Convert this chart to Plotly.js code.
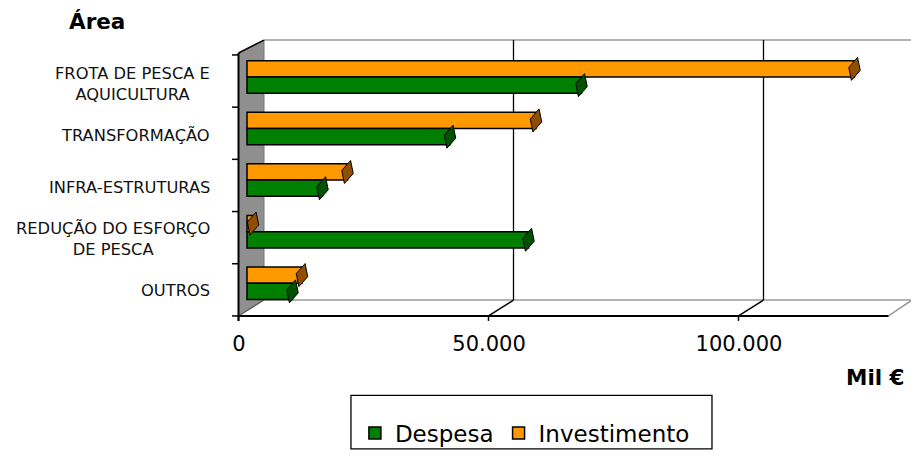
<!DOCTYPE html>
<html>
<head>
<meta charset="utf-8">
<script src="https://cdn.plot.ly/plotly-3.0.1.min.js"></script>
<style>html,body{margin:0;padding:0;background:#fff;}</style>
</head>
<body>
<div id="chart" style="width:911px;height:455px;"></div>
<script>
// ---- data ----
var categories = ['FROTA DE PESCA E<br>AQUICULTURA', 'TRANSFORMAÇÃO', 'INFRA-ESTRUTURAS', 'REDUÇÃO DO ESFORÇO<br>DE PESCA', 'OUTROS'];
var despesa = [66900, 40600, 15100, 56300, 9100];
var investimento = [121500, 57800, 20100, 1200, 11000];
var tickValues = [0, 50000, 100000];
var tickLabels = ['0', '50.000', '100.000'];
var seriesNames = ['Despesa', 'Investimento'];

// ---- style ----
var FONT = 'DejaVu Sans, Verdana, sans-serif';
var GREEN = '#008000', ORANGE = '#FF9900';
var GREEN_CAP = '#005200', ORANGE_CAP = '#8F4E00';
var XMAX = 130000;
var FRONT = -1700, BACK = 3400;               // depth offsets (axis units)
var YTOP = 1.0304, YBACK = 0.0342, YFRONT = -0.0266, YWALLTOP = 0.981, YTICK = -0.0456, YCAT = -0.0266;

var traces = [
  {type:'bar', orientation:'h', name:seriesNames[1], y:categories, x:investimento, offsetgroup:'inv',
   marker:{color:ORANGE, line:{color:'#000', width:1.5}}, legendrank:2, hoverinfo:'x'},
  {type:'bar', orientation:'h', name:seriesNames[0], y:categories, x:despesa, offsetgroup:'des',
   marker:{color:GREEN, line:{color:'#000', width:1.5}}, legendrank:1, hoverinfo:'x'},
  {type:'scatter', mode:'markers', orientation:'h', y:categories, x:investimento, offsetgroup:'inv', showlegend:false,
   marker:{symbol:'diamond-tall', size:17, color:ORANGE_CAP, angle:15, line:{color:'#000', width:1}}, hoverinfo:'skip'},
  {type:'scatter', mode:'markers', orientation:'h', y:categories, x:despesa, offsetgroup:'des', showlegend:false,
   marker:{symbol:'diamond-tall', size:17, color:GREEN_CAP, angle:15, line:{color:'#000', width:1}}, hoverinfo:'skip'}
];

function line(x0, y0, x1, y1, color, width, layer) {
  return {type:'line', xref:'x', yref:'paper', x0:x0, y0:y0, x1:x1, y1:y1,
          line:{color:color, width:width}, layer:layer || 'below'};
}
var shapes = [];
// left wall
shapes.push({type:'path', xref:'x', yref:'paper', layer:'below',
  path:'M '+FRONT+','+YWALLTOP+' L '+BACK+','+YTOP+' L '+BACK+','+YBACK+' L '+FRONT+','+YFRONT+' Z',
  fillcolor:'#8f8f8f', line:{width:0}});
shapes.push(line(BACK, YTOP, 200000, YTOP, '#9a9a9a', 1.5));
shapes.push(line(BACK, YBACK, XMAX + 3000, YBACK, '#9a9a9a', 1.5));
shapes.push(line(XMAX + 3000, YBACK, XMAX + FRONT, YFRONT, '#9a9a9a', 1.5));
shapes.push(line(BACK, YTOP, BACK, YBACK, '#777', 1));
shapes.push(line(FRONT, YWALLTOP, BACK, YTOP, '#000', 1.5));
shapes.push(line(FRONT, YFRONT, BACK, YBACK, '#555', 1.2));
shapes.push(line(FRONT, YFRONT, XMAX + FRONT, YFRONT, '#000', 2));
shapes.push(line(FRONT, YWALLTOP, FRONT, YTICK, '#000', 2));
for (var i = 0; i <= categories.length; i++) {
  var yb = 1 - i / categories.length + YCAT;
  shapes.push(line(FRONT - 1300, yb, FRONT, yb, '#000', 1.5));
}
tickValues.forEach(function(v){
  if (v > 0) {
    shapes.push(line(v + BACK - 100, YTOP, v + BACK - 100, YBACK, '#000', 1.3));
    shapes.push(line(v + BACK - 100, YBACK, v + FRONT, YFRONT, '#000', 1.5));
  }
  shapes.push(line(v + FRONT, YFRONT, v + FRONT, YTICK, '#000', 1.5));
});
// legend frame
shapes.push({type:'rect', xref:'paper', yref:'paper', x0:0.1752, x1:0.7069, y0:-0.5361, y1:-0.3308,
  line:{color:'#000', width:1.3}, fillcolor:'rgba(0,0,0,0)', layer:'above'});

var annotations = categories.map(function(c){
  return {xref:'x', yref:'y', x:0, y:c, text:c, showarrow:false, xanchor:'right', yanchor:'middle',
          xshift:-35, yshift:-7, align:'center', font:{family:FONT, size:16.3, color:'#111'}};
});
annotations.push({xref:'paper', yref:'paper', x:0.9941, y:-0.2624, xanchor:'right', yanchor:'middle',
  text:'<b>Mil €</b>', showarrow:false, font:{family:FONT, size:21.5, color:'#000'}});

var layout = {
  width:911, height:455,
  margin:{l:232, r:0, t:48, b:144, pad:0},
  paper_bgcolor:'#fff', plot_bgcolor:'rgba(0,0,0,0)',
  font:{family:FONT, color:'#000'},
  title:{text:'<b>Área</b>', xref:'container', yref:'container', x:69/911, xanchor:'left', y:1-21/455, yanchor:'middle',
         font:{family:FONT, size:21.5, color:'#000'}},
  barmode:'group', bargap:0.37, bargroupgap:0,
  scattermode:'group', scattergap:0.37,
  xaxis:{range:[-3000, 132800], showgrid:false, zeroline:false, showline:false, ticks:'',
         tickmode:'array', tickvals:tickValues, ticktext:tickLabels,
         ticklabelshift:-8, ticklabelstandoff:20, tickfont:{family:FONT, size:21, color:'#000'}, fixedrange:true},
  yaxis:{type:'category', autorange:'reversed', showgrid:false, zeroline:false, showline:false, ticks:'',
         showticklabels:false, fixedrange:true},
  showlegend:true,
  legend:{orientation:'h', x:0.181, xanchor:'left', y:-0.475, yanchor:'middle', traceorder:'normal',
          font:{family:FONT, size:23, color:'#000'}, bgcolor:'rgba(0,0,0,0)', borderwidth:0},
  shapes:shapes,
  annotations:annotations
};

Plotly.newPlot('chart', traces, layout, {displayModeBar:false, staticPlot:true});
</script>
</body>
</html>
